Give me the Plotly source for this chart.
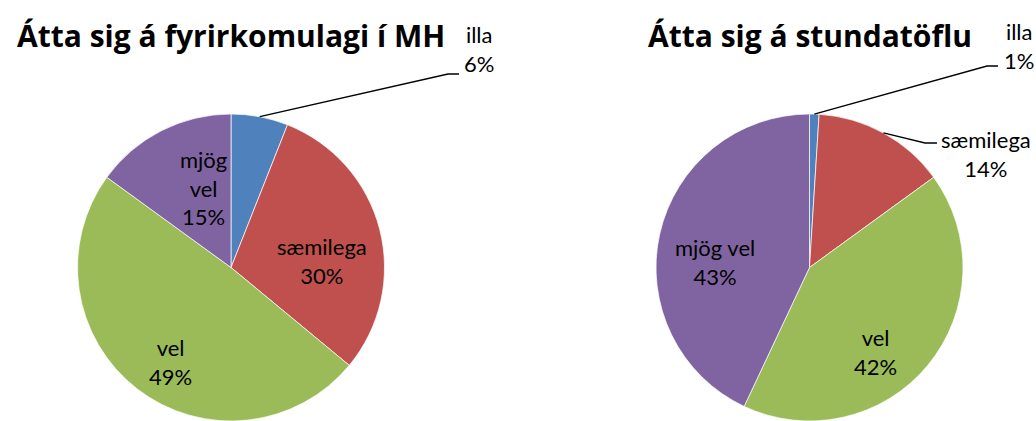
import math
import plotly.graph_objects as go

W, H = 1036, 421

categories = ["illa", "sæmilega", "vel", "mjög vel"]
colors = ["#4F81BD", "#C0504D", "#9BBB59", "#8064A2"]

title_left = "Átta sig á fyrirkomulagi í MH"
values_left = [6, 30, 49, 15]

title_right = "Átta sig á stundatöflu"
values_right = [1, 14, 42, 43]

FONT = "Lato, 'Open Sans', sans-serif"
TITLE_FONT = "'Open Sans', Lato, sans-serif"
LABEL_SIZE = 22

R = 153.5
CY = H - R  # pie touches bottom edge
CX_LEFT, CX_RIGHT = 231, 809.5

fig = go.Figure()


def add_pie(values, cx, name):
    fig.add_trace(go.Pie(
        labels=categories, values=values, sort=False, direction="clockwise", rotation=0,
        marker=dict(colors=colors, line=dict(color="rgba(255,255,255,0.7)", width=1)),
        textinfo="none", hoverinfo="label+percent", showlegend=False, name=name,
        domain=dict(x=[(cx - R) / W, (cx + R) / W], y=[0, 2 * R / H]),
    ))


add_pie(values_left, CX_LEFT, title_left)
add_pie(values_right, CX_RIGHT, title_right)


def pct(values, i):
    return round(100 * values[i] / sum(values))


def edge_point(values, i, cx):
    tot = sum(values)
    start = sum(values[:i]) / tot
    mid = (start + values[i] / tot / 2) * 2 * math.pi
    return cx + R * math.sin(mid), CY - R * math.cos(mid)


annotations = []
shapes = []


def label(text, x, y, xanchor="center"):
    annotations.append(dict(x=x, y=y, xref="x", yref="y", text=text, showarrow=False,
                            xanchor=xanchor, yanchor="middle",
                            font=dict(family=FONT, size=LABEL_SIZE, color="black")))


def leader(values, i, cx, elbow, end):
    x0, y0 = edge_point(values, i, cx)
    shapes.append(dict(type="path", xref="x", yref="y", layer="above",
                       path=f"M {x0},{y0} L {elbow[0]},{elbow[1]} L {end[0]},{end[1]}",
                       line=dict(color="black", width=1.3)))


# titles
for t, cx in ((title_left, CX_LEFT), (title_right, CX_RIGHT)):
    annotations.append(dict(x=cx, y=35, xref="x", yref="y", text=f"<b>{t}</b>",
                            showarrow=False, xanchor="center", yanchor="middle",
                            font=dict(family=TITLE_FONT, size=30, color="black")))

# left pie labels
label(f"{categories[0]}<br>{pct(values_left, 0)}%", 479, 49)
leader(values_left, 0, CX_LEFT, (448, 74), (459, 74))
label(f"{categories[1]}<br>{pct(values_left, 1)}%", 322, 261)
label(f"{categories[2]}<br>{pct(values_left, 2)}%", 170, 362)
label("<br>".join(categories[3].split()) + f"<br>{pct(values_left, 3)}%", 203, 188)

# right pie labels
label(f"{categories[0]}<br>{pct(values_right, 0)}%", 1019, 46)
leader(values_right, 0, CX_RIGHT, (987, 66), (998, 66))
label(f"{categories[1]}<br>{pct(values_right, 1)}%", 986, 154)
leader(values_right, 1, CX_RIGHT, (925, 143), (937, 143))
label(f"{categories[2]}<br>{pct(values_right, 2)}%", 875, 352)
label(f"{categories[3]}<br>{pct(values_right, 3)}%", 715, 262)

fig.update_layout(
    width=W, height=H,
    margin=dict(l=0, r=0, t=0, b=0),
    paper_bgcolor="white", plot_bgcolor="rgba(0,0,0,0)",
    xaxis=dict(range=[0, W], visible=False, fixedrange=True),
    yaxis=dict(range=[H, 0], visible=False, fixedrange=True),
    annotations=annotations, shapes=shapes,
)

fig.write_html("out.html", config={"displayModeBar": False},
               post_script="document.body.style.margin='0';document.body.style.overflow='hidden';")
